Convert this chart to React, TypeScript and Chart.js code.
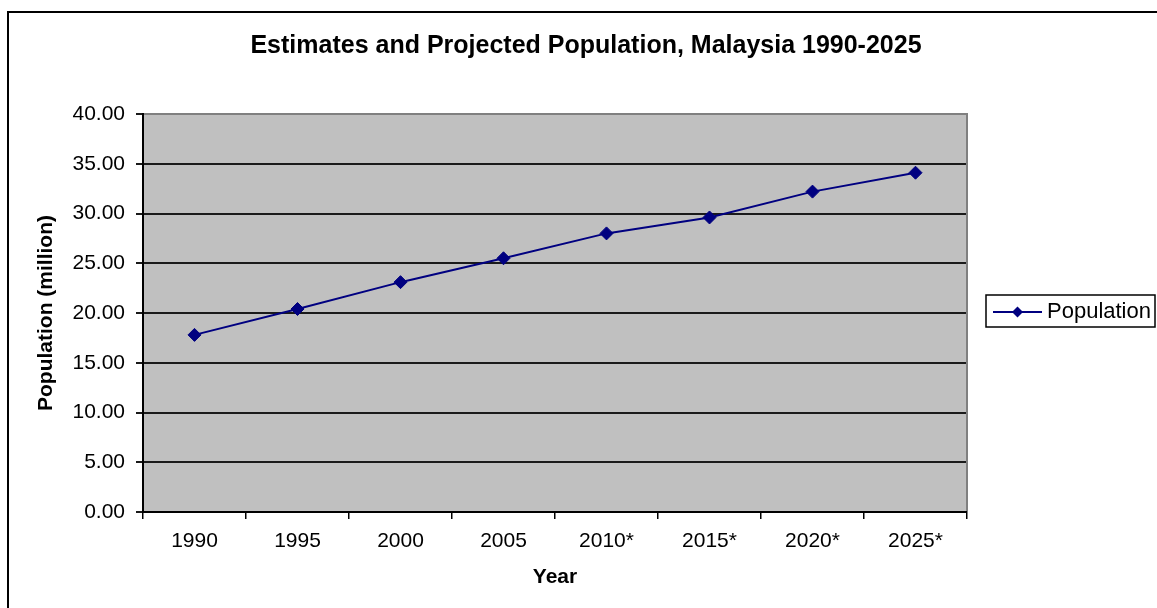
import React, { useEffect, useRef } from 'react';
import { Chart, registerables } from 'chart.js';

Chart.register(...registerables);

const categories = ['1990', '1995', '2000', '2005', '2010*', '2015*', '2020*', '2025*'];
const population = [17.8, 20.4, 23.1, 25.5, 28.0, 29.6, 32.2, 34.1];
const seriesName = 'Population';
const chartTitle = 'Estimates and Projected Population, Malaysia 1990-2025';
const yAxisTitle = 'Population (million)';
const xAxisTitle = 'Year';
const yMin = 0;
const yMax = 40;
const yStep = 5;

const FONT = '"Liberation Sans", Arial, sans-serif';
const NAVY = '#000080';

const decorPlugin = {
  id: 'decor',
  beforeDraw(chart: any) {
    const { ctx, chartArea: a } = chart;
    ctx.save();
    ctx.fillStyle = '#ffffff';
    ctx.fillRect(0, 0, chart.width, chart.height);
    ctx.strokeStyle = '#000';
    ctx.lineWidth = 2;
    ctx.strokeRect(8, 12, chart.width + 20, chart.height + 20);
    ctx.fillStyle = '#C0C0C0';
    ctx.fillRect(a.left, a.top, a.right - a.left, a.bottom - a.top);
    ctx.restore();
  },
  beforeDatasetsDraw(chart: any) {
    const { ctx, chartArea: a } = chart;
    ctx.save();
    ctx.strokeStyle = '#808080';
    ctx.lineWidth = 2;
    ctx.beginPath();
    ctx.moveTo(a.left + 1, a.top);
    ctx.lineTo(a.right, a.top);
    ctx.lineTo(a.right, a.bottom - 1);
    ctx.stroke();
    ctx.restore();
  },
  afterDraw(chart: any) {
    const { ctx } = chart;
    const boxX = 986;
    const boxY = 295;
    const boxW = 169;
    const boxH = 32;
    const cy = boxY + boxH / 2 + 1;
    ctx.save();
    ctx.fillStyle = '#fff';
    ctx.fillRect(boxX, boxY, boxW, boxH);
    ctx.strokeStyle = '#000';
    ctx.lineWidth = 1.5;
    ctx.strokeRect(boxX, boxY, boxW, boxH);
    ctx.strokeStyle = NAVY;
    ctx.lineWidth = 2;
    ctx.beginPath();
    ctx.moveTo(993, cy);
    ctx.lineTo(1042, cy);
    ctx.stroke();
    const r = 5.5;
    const dx = 1017.5;
    ctx.fillStyle = NAVY;
    ctx.beginPath();
    ctx.moveTo(dx, cy - r);
    ctx.lineTo(dx + r, cy);
    ctx.lineTo(dx, cy + r);
    ctx.lineTo(dx - r, cy);
    ctx.closePath();
    ctx.fill();
    ctx.fillStyle = '#000';
    ctx.font = `22px ${FONT}`;
    ctx.textBaseline = 'middle';
    ctx.textAlign = 'left';
    ctx.fillText(seriesName, 1047, cy);
    ctx.restore();
  },
};

export default function App() {
  const ref = useRef<HTMLCanvasElement | null>(null);

  useEffect(() => {
    if (!ref.current) return;
    Chart.defaults.font.family = FONT;
    Chart.defaults.color = '#000';
    const chart = new Chart(ref.current, {
      type: 'line',
      data: {
        labels: categories,
        datasets: [
          {
            label: seriesName,
            data: population,
            borderColor: NAVY,
            backgroundColor: NAVY,
            borderWidth: 2,
            pointStyle: 'rectRot',
            pointRadius: 6.5,
            pointBorderWidth: 1,
            pointBackgroundColor: NAVY,
            pointBorderColor: NAVY,
            tension: 0,
            fill: false,
          },
        ],
      },
      options: {
        responsive: false,
        maintainAspectRatio: false,
        animation: false,
        devicePixelRatio: 1,
        layout: { padding: { left: 15, right: 0, top: 0, bottom: 0 } },
        plugins: {
          legend: { display: false },
          tooltip: { enabled: false },
          title: {
            display: true,
            text: chartTitle,
            color: '#000',
            font: { family: FONT, size: 25, weight: 'bold' },
            padding: { top: 31, bottom: 53 },
          },
        },
        scales: {
          x: {
            type: 'category',
            offset: true,
            grid: {
              display: true,
              offset: true,
              drawOnChartArea: false,
              drawTicks: true,
              tickLength: 7,
              color: '#000',
              lineWidth: 1.5,
            },
            border: { display: true, color: '#000', width: 2 },
            ticks: {
              color: '#000',
              font: { family: FONT, size: 21 },
              padding: 10,
              maxRotation: 0,
              autoSkip: false,
            },
            title: {
              display: true,
              text: xAxisTitle,
              color: '#000',
              font: { family: FONT, size: 21, weight: 'bold' },
              padding: { top: 0, bottom: 18.4 },
            },
            afterFit: (s: any) => {
              s.height = 96;
            },
          },
          y: {
            type: 'linear',
            position: 'left',
            min: yMin,
            max: yMax,
            grid: {
              display: true,
              drawTicks: true,
              tickLength: 7,
              color: '#1a1a1a',
              lineWidth: 2,
            },
            border: { display: true, color: '#000', width: 2 },
            ticks: {
              stepSize: yStep,
              color: '#000',
              font: { family: FONT, size: 21 },
              padding: 11,
              callback: (v: any) => Number(v).toFixed(2),
            },
            title: {
              display: true,
              text: yAxisTitle,
              color: '#000',
              font: { family: FONT, size: 21, weight: 'bold' },
              padding: { top: 19, bottom: 0 },
            },
            afterFit: (s: any) => {
              s.width = 128;
            },
          },
          yR: {
            type: 'linear',
            position: 'right',
            display: true,
            grid: { display: false, drawTicks: false },
            border: { display: false },
            ticks: { display: false },
            afterFit: (s: any) => {
              s.width = 190;
            },
          },
        },
      },
      plugins: [decorPlugin],
    });
    return () => chart.destroy();
  }, []);

  return (
    <div style={{ position: 'absolute', left: 0, top: 0, width: 1157, height: 608 }}>
      <canvas ref={ref} width={1157} height={608} style={{ display: 'block', width: 1157, height: 608 }} />
    </div>
  );
}
